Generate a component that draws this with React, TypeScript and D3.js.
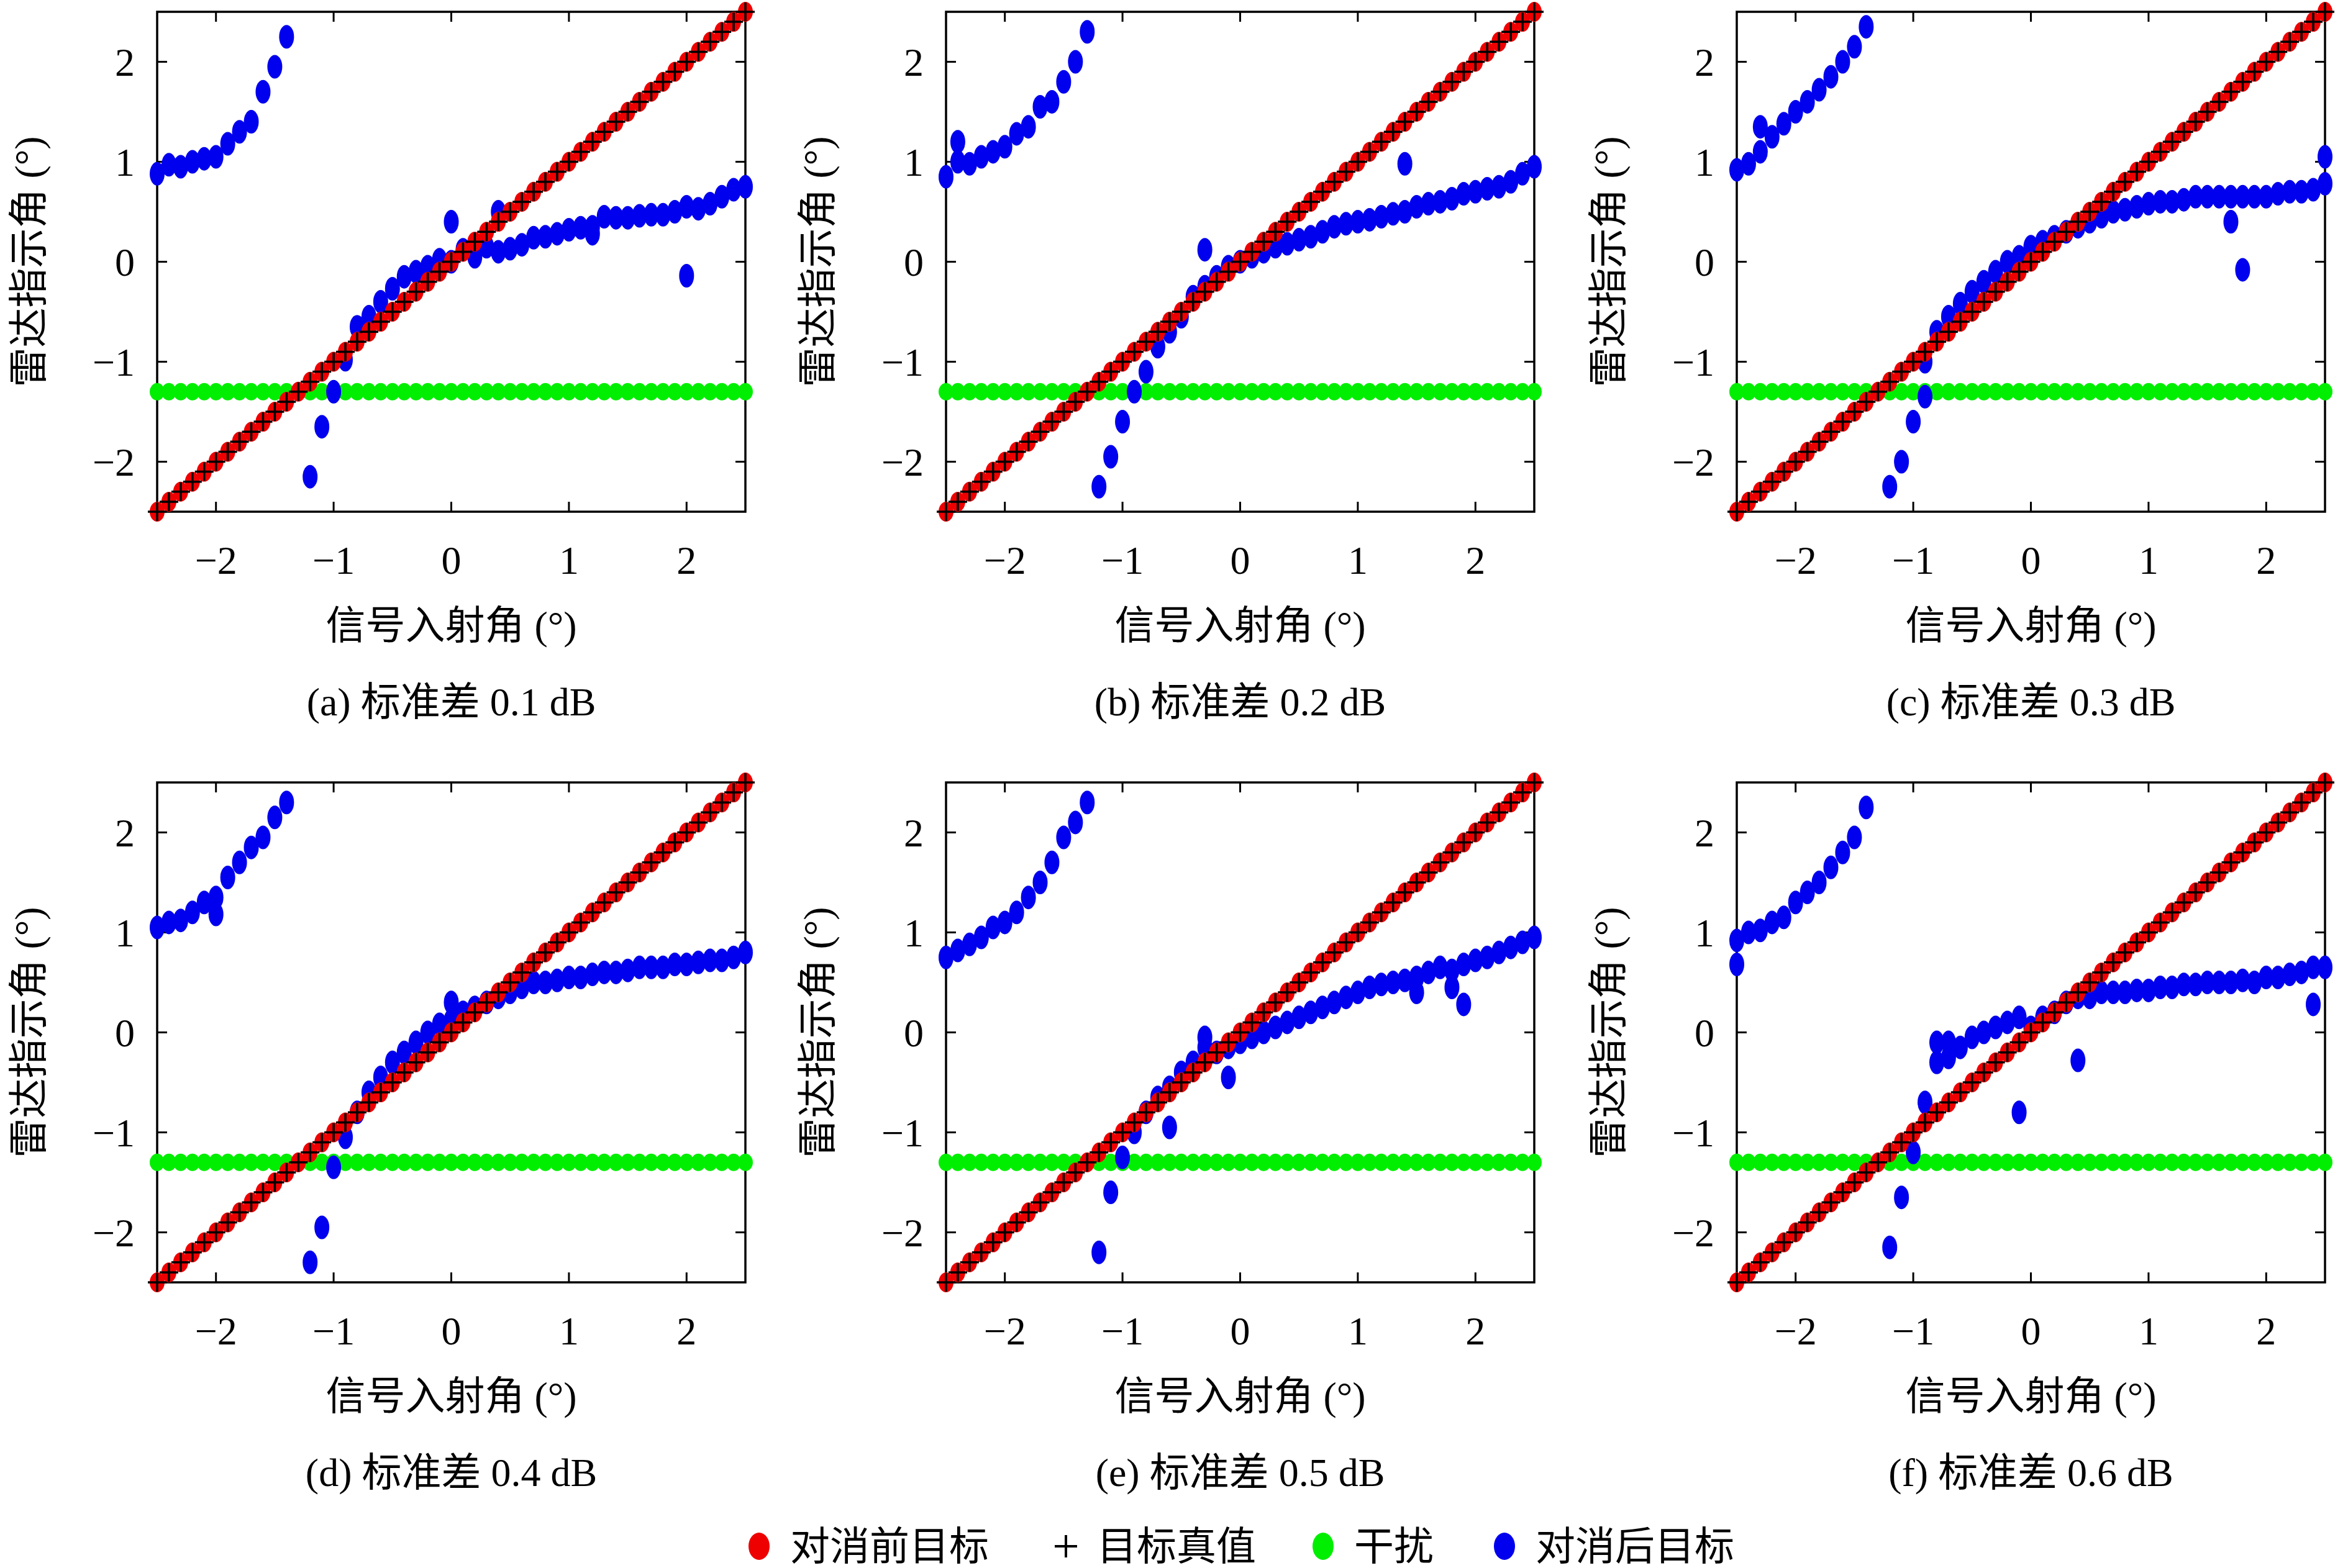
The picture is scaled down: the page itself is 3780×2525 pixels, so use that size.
import * as d3 from 'd3';
import React, { useEffect, useRef } from 'react';

// incidence angles, -2.5 .. 2.5 step 0.1
const xs = d3.range(51).map((i) => +(-2.5 + i * 0.1).toFixed(1));
const jammer = -1.3;
const captions = ['(a) 标准差 0.1 dB', '(b) 标准差 0.2 dB', '(c) 标准差 0.3 dB', '(d) 标准差 0.4 dB', '(e) 标准差 0.5 dB', '(f) 标准差 0.6 dB'];
const xTicks = [-2, -1, 0, 1, 2];
const yTicks = [-2, -1, 0, 1, 2];

// blue: indicated angle after cancellation, one value per x (null = none)
const blueA = [0.88, 0.97, 0.95, 1.0, 1.03, 1.05, 1.18, 1.3, 1.4, 1.7, 1.95, 2.25, null, -2.15, -1.65, -1.3, -0.98, -0.65, -0.55, -0.4, -0.27, -0.15, -0.1, -0.05, 0.02, 0.0, 0.12, 0.05, 0.15, 0.1, 0.13, 0.17, 0.24, 0.25, 0.28, 0.32, 0.34, 0.35, 0.45, 0.44, 0.44, 0.46, 0.47, 0.47, 0.5, 0.55, 0.53, 0.58, 0.65, 0.72, 0.75];
const blueB = [0.85, 1.0, 0.98, 1.05, 1.1, 1.15, 1.28, 1.35, 1.55, 1.6, 1.8, 2.0, 2.3, -2.25, -1.95, -1.6, -1.3, -1.1, -0.85, -0.7, -0.55, -0.35, -0.25, -0.15, -0.05, 0.0, 0.05, 0.1, 0.15, 0.18, 0.22, 0.25, 0.3, 0.35, 0.38, 0.4, 0.42, 0.45, 0.48, 0.5, 0.55, 0.58, 0.6, 0.63, 0.68, 0.7, 0.73, 0.75, 0.8, 0.88, 0.95];
const blueC = [0.92, 0.98, 1.1, 1.25, 1.38, 1.5, 1.6, 1.72, 1.85, 2.0, 2.15, 2.35, null, -2.25, -2.0, -1.6, -1.0, -0.7, -0.55, -0.42, -0.3, -0.2, -0.1, 0.0, 0.05, 0.15, 0.2, 0.25, 0.3, 0.35, 0.4, 0.45, 0.5, 0.52, 0.55, 0.58, 0.6, 0.6, 0.62, 0.65, 0.65, 0.65, 0.65, 0.65, 0.65, 0.65, 0.68, 0.7, 0.7, 0.72, 0.78];
const blueD = [1.05, 1.1, 1.12, 1.2, 1.3, 1.35, 1.55, 1.7, 1.85, 1.95, 2.15, 2.3, null, -2.3, -1.95, -1.35, -1.05, -0.8, -0.6, -0.45, -0.3, -0.2, -0.1, 0.0, 0.08, 0.12, 0.2, 0.25, 0.3, 0.35, 0.4, 0.45, 0.5, 0.5, 0.52, 0.55, 0.55, 0.58, 0.6, 0.6, 0.62, 0.65, 0.65, 0.65, 0.68, 0.68, 0.7, 0.72, 0.72, 0.75, 0.8];
const blueE = [0.75, 0.82, 0.88, 0.95, 1.05, 1.1, 1.2, 1.35, 1.5, 1.7, 1.95, 2.1, 2.3, -2.2, -1.6, -1.25, -1.0, -0.8, -0.65, -0.55, -0.4, -0.3, -0.15, -0.2, -0.15, -0.1, -0.05, 0.0, 0.05, 0.1, 0.15, 0.2, 0.25, 0.3, 0.35, 0.4, 0.45, 0.48, 0.5, 0.52, 0.55, 0.6, 0.65, 0.62, 0.68, 0.72, 0.75, 0.8, 0.85, 0.9, 0.95];
const blueF = [0.92, 1.0, 1.02, 1.1, 1.15, 1.3, 1.4, 1.5, 1.65, 1.8, 1.95, 2.25, null, -2.15, -1.65, -1.2, -0.7, -0.3, -0.25, -0.15, -0.05, 0.0, 0.05, 0.1, 0.15, 0.05, 0.15, 0.2, 0.3, 0.35, 0.35, 0.4, 0.4, 0.4, 0.42, 0.42, 0.45, 0.45, 0.48, 0.48, 0.5, 0.5, 0.5, 0.52, 0.5, 0.55, 0.55, 0.58, 0.6, 0.65, 0.65];
// stray blue points [x, y]
const strayA = [[0, 0.4], [2.0, -0.14], [0.4, 0.5], [1.2, 0.28]];
const strayB = [[-2.4, 1.2], [-0.3, 0.12], [1.4, 0.98]];
const strayC = [[-2.3, 1.35], [-0.9, -1.35], [1.7, 0.4], [1.8, -0.08], [2.5, 1.05]];
const strayD = [[-2.0, 1.18], [0, 0.3]];
const strayE = [[-0.6, -0.95], [-0.3, -0.05], [-0.1, -0.45], [1.5, 0.4], [1.8, 0.45], [1.9, 0.28]];
const strayF = [[-2.5, 0.68], [-0.8, -0.1], [-0.7, -0.1], [-0.1, -0.8], [0.4, -0.28], [2.4, 0.28]];
const blues = [blueA, blueB, blueC, blueD, blueE, blueF];
const strays = [strayA, strayB, strayC, strayD, strayE, strayF];

const W = 3780, H = 2525;
const panelW = 947, panelH = 805;
const lefts = [253, 1523, 2796];
const tops = [19, 1260];
const serif = '"Liberation Serif", "DejaVu Serif", serif';
const cjk = '"Liberation Serif", "Noto Sans CJK SC", serif';

const App = () => {
  const ref = useRef<SVGSVGElement | null>(null);

  useEffect(() => {
    const svg = d3.select(ref.current);
    svg.selectAll('*').remove();
    svg.append('rect').attr('width', W).attr('height', H).attr('fill', 'white');

    const x = d3.scaleLinear().domain([-2.5, 2.5]).range([0, panelW]);
    const y = d3.scaleLinear().domain([-2.5, 2.5]).range([panelH, 0]);

    blues.forEach((blue, p) => {
      const g = svg.append('g')
        .attr('transform', `translate(${lefts[p % 3]},${tops[Math.floor(p / 3)]})`);

      // frame and inside ticks
      g.append('rect').attr('width', panelW).attr('height', panelH)
        .attr('fill', 'none').attr('stroke', 'black').attr('stroke-width', 3.5);
      xTicks.forEach((t) => {
        g.append('line').attr('x1', x(t)).attr('x2', x(t)).attr('y1', panelH).attr('y2', panelH - 16).attr('stroke', 'black').attr('stroke-width', 3);
        g.append('line').attr('x1', x(t)).attr('x2', x(t)).attr('y1', 0).attr('y2', 16).attr('stroke', 'black').attr('stroke-width', 3);
        g.append('text').attr('x', x(t)).attr('y', panelH + 100).attr('text-anchor', 'middle')
          .style('font-family', serif).style('font-size', '64px').text(t < 0 ? `−${-t}` : `${t}`);
      });
      yTicks.forEach((t) => {
        g.append('line').attr('x1', 0).attr('x2', 16).attr('y1', y(t)).attr('y2', y(t)).attr('stroke', 'black').attr('stroke-width', 3);
        g.append('line').attr('x1', panelW).attr('x2', panelW - 16).attr('y1', y(t)).attr('y2', y(t)).attr('stroke', 'black').attr('stroke-width', 3);
        g.append('text').attr('x', -36).attr('y', y(t) + 22).attr('text-anchor', 'end')
          .style('font-family', serif).style('font-size', '64px').text(t < 0 ? `−${-t}` : `${t}`);
      });

      g.append('text').attr('transform', `translate(-185,${panelH / 2}) rotate(-90)`)
        .attr('text-anchor', 'middle').style('font-family', cjk).style('font-size', '64px')
        .text('雷达指示角 (°)');
      g.append('text').attr('x', panelW / 2).attr('y', panelH + 205).attr('text-anchor', 'middle')
        .style('font-family', cjk).style('font-size', '64px').text('信号入射角 (°)');
      g.append('text').attr('x', panelW / 2).attr('y', panelH + 328).attr('text-anchor', 'middle')
        .style('font-family', cjk).style('font-size', '64px').text(captions[p]);

      // jammer
      g.selectAll('.jam').data(xs).enter().append('ellipse')
        .attr('cx', (d) => x(d)).attr('cy', y(jammer)).attr('rx', 12).attr('ry', 14).attr('fill', '#00ee00');

      // blue after cancellation
      const bluePts = xs.map((d, i) => [d, blue[i]]).filter((d) => d[1] !== null).concat(strays[p]);
      g.selectAll('.blue').data(bluePts).enter().append('ellipse')
        .attr('cx', (d) => x(d[0])).attr('cy', (d) => y(d[1])).attr('rx', 12).attr('ry', 19).attr('fill', '#0000ee');

      // red before cancellation
      g.selectAll('.red').data(xs).enter().append('ellipse')
        .attr('cx', (d) => x(d)).attr('cy', (d) => y(d)).attr('rx', 12).attr('ry', 16).attr('fill', '#ee0000');

      // true value
      g.selectAll('.truth').data(xs).enter().append('path')
        .attr('d', (d) => `M${x(d) - 15},${y(d)}H${x(d) + 15}M${x(d)},${y(d) - 15}V${y(d) + 15}`)
        .attr('stroke', 'black').attr('stroke-width', 3.5);
    });

    // legend
    const ly = 2490;
    const lg = svg.append('g');
    const items = [
      { x: 1222, kind: 'red', label: '对消前目标' },
      { x: 1716, kind: 'plus', label: '目标真值' },
      { x: 2130, kind: 'green', label: '干扰' },
      { x: 2422, kind: 'blue', label: '对消后目标' },
    ];
    items.forEach((it) => {
      if (it.kind === 'plus') {
        lg.append('path').attr('d', `M${it.x - 18},${ly}H${it.x + 18}M${it.x},${ly - 18}V${ly + 18}`)
          .attr('stroke', 'black').attr('stroke-width', 4);
      } else {
        const c = it.kind === 'red' ? '#ee0000' : it.kind === 'green' ? '#00ee00' : '#0000ee';
        lg.append('ellipse').attr('cx', it.x).attr('cy', ly).attr('rx', 17).attr('ry', 22).attr('fill', c);
      }
      lg.append('text').attr('x', it.x + 50).attr('y', ly + 22).style('font-family', cjk)
        .style('font-size', '64px').text(it.label);
    });
  }, []);

  return <svg ref={ref} width={W} height={H} style={{ position: 'absolute', left: 0, top: 0 }} />;
};

export default App;
